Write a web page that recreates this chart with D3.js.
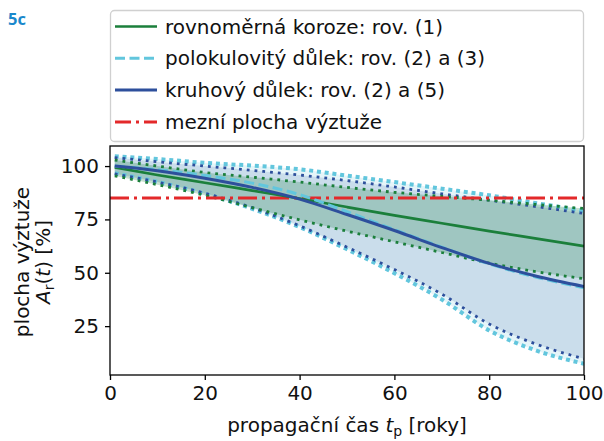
<!DOCTYPE html>
<html><head><meta charset="utf-8">
<script src="https://cdn.jsdelivr.net/npm/d3@7"></script>
<style>
html,body{margin:0;padding:0;background:#fff;}
svg{display:block;font-family:"DejaVu Sans",sans-serif;}
</style></head><body>
<svg id="c" width="604" height="441"></svg>
<script>
// ---- data ----
const years = [1, 10, 20, 30, 40, 50, 60, 70, 80, 90, 100];
// uniform corrosion, eq. (1)
const uniformMean  = [99.4, 95.8, 92.2, 88.5, 84.8, 80.8, 76.9, 73.2, 69.5, 66.0, 62.5];
const uniformUpper = [102.8, 100.0, 97.0, 94.8, 92.5, 90.0, 87.7, 85.8, 84.0, 82.0, 80.1];
const uniformLower = [95.4, 91.3, 86.3, 80.5, 74.8, 69.5, 64.5, 59.5, 54.5, 50.5, 47.2];
// hemispherical pit, eq. (2) and (3)
const hemiMean  = [100.0, 98.3, 95.6, 92.0, 86.6, 78.6, 70.2, 62.0, 54.2, 47.9, 43.0];
const hemiUpper = [104.6, 103.3, 101.5, 100.2, 98.5, 95.5, 92.5, 89.4, 86.3, 82.6, 79.0];
const hemiLower = [96.6, 92.6, 87.0, 80.0, 71.4, 61.0, 49.8, 37.5, 23.0, 13.5, 7.4];
// circular pit, eq. (2) and (5)
const circMean  = [100.0, 97.8, 94.3, 90.0, 84.5, 77.3, 69.8, 61.8, 54.4, 48.4, 43.6];
const circUpper = [104.0, 102.0, 100.0, 98.0, 95.8, 93.2, 90.2, 87.0, 84.0, 81.0, 77.8];
const circLower = [96.3, 92.5, 87.3, 80.5, 72.0, 62.0, 51.5, 40.0, 26.0, 16.5, 9.7];
const limitArea = 85;
const xTicks = [0, 20, 40, 60, 80, 100];
const yTicks = [25, 50, 75, 100];
const legendLabels = [
  "rovnoměrná koroze: rov. (1)",
  "polokulovitý důlek: rov. (2) a (3)",
  "kruhový důlek: rov. (2) a (5)",
  "mezní plocha výztuže"
];

// ---- colours ----
const cGreen = "#1b7f3b", cLight = "#62c6dd", cDark = "#2d4f9c", cRed = "#e3292a";

const svg = d3.select("#c");
const L = 110, R = 584, T = 146, B = 375;
const x = d3.scaleLinear().domain([0, 100]).range([L, R]);
const y = d3.scaleLinear().domain([2.1, 109.4]).range([B, T]);

svg.append("defs").append("clipPath").attr("id","clip")
  .append("rect").attr("x",L).attr("y",T).attr("width",R-L).attr("height",B-T);
const g = svg.append("g").attr("clip-path","url(#clip)");

const curve = d3.curveMonotoneX;
const band = (lo, hi) => d3.area().curve(curve)
  .x((d,i)=>x(years[i])).y0((d,i)=>y(lo[i])).y1((d,i)=>y(hi[i]))(years);
const line = arr => d3.line().curve(curve).x((d,i)=>x(years[i])).y(d=>y(d))(arr);

// fills
g.append("path").attr("d", band(hemiLower, hemiUpper)).attr("fill", cLight).attr("fill-opacity", 0.17);
g.append("path").attr("d", band(circLower, circUpper)).attr("fill", cDark).attr("fill-opacity", 0.14);
g.append("path").attr("d", band(uniformLower, uniformUpper)).attr("fill", cGreen).attr("fill-opacity", 0.24);

// dotted bounds
function dotted(arr, col, w, dash){
  g.append("path").attr("d", line(arr)).attr("fill","none").attr("stroke",col)
    .attr("stroke-width",w).attr("stroke-dasharray",dash);
}
dotted(hemiUpper, cLight, 4, "4 3.8");
dotted(hemiLower, cLight, 4, "4 3.8");
dotted(circUpper, cDark, 2.8, "2.8 5");
dotted(circLower, cDark, 2.8, "2.8 5");
dotted(uniformUpper, cGreen, 2.8, "2.8 5");
dotted(uniformLower, cGreen, 2.8, "2.8 5");

// limit line
g.append("line").attr("x1",x(0)).attr("x2",x(100)).attr("y1",y(limitArea)).attr("y2",y(limitArea))
  .attr("stroke",cRed).attr("stroke-width",3).attr("stroke-dasharray","19 5 3 5");

// mean lines
g.append("path").attr("d", line(uniformMean)).attr("fill","none").attr("stroke",cGreen).attr("stroke-width",2.7);
g.append("path").attr("d", line(hemiMean)).attr("fill","none").attr("stroke",cLight).attr("stroke-width",3).attr("stroke-dasharray","10 4.5");
g.append("path").attr("d", line(circMean)).attr("fill","none").attr("stroke",cDark).attr("stroke-width",3);

// axes
const xa = svg.append("g").attr("transform",`translate(0,${B})`)
  .call(d3.axisBottom(x).tickValues(xTicks).tickSize(5).tickPadding(6).tickFormat(d3.format("d")));
const ya = svg.append("g").attr("transform",`translate(${L},0)`)
  .call(d3.axisLeft(y).tickValues(yTicks).tickSize(5).tickPadding(6).tickFormat(d3.format("d")));
[xa, ya].forEach(a=>{
  a.select(".domain").remove();
  a.selectAll(".tick line").attr("stroke","#000").attr("stroke-width",1.3);
  a.selectAll(".tick text").attr("font-size",20).attr("fill","#111").attr("font-family","DejaVu Sans");
});
svg.append("rect").attr("x",L).attr("y",T).attr("width",R-L).attr("height",B-T)
  .attr("fill","none").attr("stroke","#000").attr("stroke-width",1.3);

// x label
const xl = svg.append("text").attr("x",(L+R)/2).attr("y",432).attr("text-anchor","middle")
  .attr("font-size",20).attr("fill","#111");
xl.append("tspan").text("propagační čas ");
xl.append("tspan").attr("font-style","italic").text("t");
xl.append("tspan").attr("font-size",14).attr("dy",4).text("p");
xl.append("tspan").attr("dy",-4).text(" [roky]");

// y label
const yc = 262;
svg.append("text").attr("transform",`translate(29,${yc}) rotate(-90)`).attr("text-anchor","middle")
  .attr("font-size",20).attr("fill","#111").text("plocha výztuže");
const yl2 = svg.append("text").attr("transform",`translate(50,${yc}) rotate(-90)`).attr("text-anchor","middle")
  .attr("font-size",20).attr("fill","#111");
yl2.append("tspan").attr("font-style","italic").text("A");
yl2.append("tspan").attr("font-size",14).attr("dy",4).text("r");
yl2.append("tspan").attr("dy",-4).text("(");
yl2.append("tspan").attr("font-style","italic").text("t");
yl2.append("tspan").text(") [%]");

// legend
svg.append("rect").attr("x",110.5).attr("y",10.5).attr("width",473).attr("height",131).attr("rx",4)
  .attr("fill","#fff").attr("stroke","#d0d0d0").attr("stroke-width",1.3);
const legStyles = [
  {c:cGreen, w:2.7, d:null},
  {c:cLight, w:3, d:"10 4.5"},
  {c:cDark, w:3, d:null},
  {c:cRed, w:3, d:"16 5 3 5"}
];
legendLabels.forEach((lab,i)=>{
  const yy = 26.5 + i*31.8;
  svg.append("line").attr("x1",115).attr("x2",157).attr("y1",yy).attr("y2",yy)
    .attr("stroke",legStyles[i].c).attr("stroke-width",legStyles[i].w)
    .attr("stroke-dasharray",legStyles[i].d);
  svg.append("text").attr("x",165).attr("y",yy+7).attr("font-size",20).attr("fill","#111").text(lab);
});

// panel tag
svg.append("text").attr("x",8).attr("y",24.5).attr("font-size",16.5).attr("font-weight","bold")
  .attr("font-family","Open Sans, DejaVu Sans, sans-serif").attr("fill","#1a88cc").text("5c");
</script>
</body></html>
